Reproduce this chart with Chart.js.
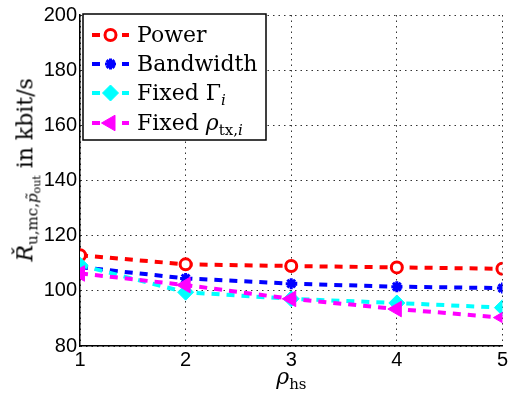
<!DOCTYPE html>
<html>
<head>
<meta charset="utf-8">
<script src="https://cdn.jsdelivr.net/npm/chart.js@4/dist/chart.umd.min.js"></script>
<style>
  html, body { margin: 0; padding: 0; background: #fff; }
  #wrap { width: 510px; height: 398px; position: relative; overflow: hidden; }
  .tx { position: absolute; left: 0; top: 0; white-space: nowrap; font-family: 'DejaVu Serif', serif;
        font-size: 22px; line-height: 22px; color: #000; transform-origin: 0 0; }
  .tx i { font-style: italic; }
  .sb { font-size: 15px; position: relative; top: 5px; }
  .ssb { font-size: 11px; position: relative; top: 2.5px; }
</style>
</head>
<body>
<div id="wrap">
  <canvas id="rateChart" width="510" height="398"></canvas>
  <div class="tx" id="lg0"></div>
  <div class="tx" id="lg1"></div>
  <div class="tx" id="lg2"></div>
  <div class="tx" id="lg3"></div>
  <div class="tx" id="xtitle"><i>&rho;</i><span class="sb">hs</span></div>
  <div class="tx" id="ytitle"><i>&#x0158;</i><span class="sb">u,mc,<i>p&#x0303;</i><span class="ssb">out</span></span> in kbit/s</div>
</div>
<script>
const rhoHs = [1, 2, 3, 4, 5];
const ratePower = [112.9, 109.6, 109.0, 108.5, 108.0];
const rateBandwidth = [108.6, 104.5, 102.6, 101.5, 101.0];
const rateFixedGamma = [109.3, 99.5, 97.1, 95.6, 93.9];
const rateFixedRho = [106.3, 102.1, 97.1, 93.4, 90.3];
const yTicks = [80, 100, 120, 140, 160, 180, 200];
const seriesNames = [
    'Power',
    'Bandwidth',
    'Fixed &Gamma;<span class="sb"><i>i</i></span>',
    'Fixed <i>&rho;</i><span class="sb">tx,<i>i</i></span>'
];

const SANS = '"Liberation Sans", Arial, sans-serif';
const ASC = 0.846 * 22;          // baseline offset inside a label box
const legendRows = [35, 64, 93, 123];

function pts(ys) {
    return rhoHs.map((x, i) => ({ x: x, y: ys[i] }));
}

// legend box, line samples and markers on the canvas; labels are html
const legendBox = {
    id: 'legendBox',
    afterDraw(chart) {
        const ctx = chart.ctx;
        ctx.save();
        ctx.fillStyle = '#fff';
        ctx.fillRect(83, 14, 183, 126);
        ctx.strokeStyle = '#000';
        ctx.lineWidth = 1.5;
        ctx.strokeRect(83, 14, 183, 126);
        chart.data.datasets.forEach((ds, i) => {
            const cy = legendRows[i];
            ctx.strokeStyle = ds.borderColor;
            ctx.lineWidth = ds.borderWidth;
            ctx.setLineDash([8, 7]);
            ctx.beginPath();
            ctx.moveTo(92, cy);
            ctx.lineTo(129, cy);
            ctx.stroke();
            ctx.setLineDash([]);
            ctx.fillStyle = ds.pointBackgroundColor;
            ctx.strokeStyle = ds.pointBorderColor;
            ctx.lineWidth = ds.pointBorderWidth;
            Chart.helpers.drawPoint(ctx, {
                pointStyle: ds.pointStyle,
                rotation: ds.pointRotation || 0,
                radius: ds.pointRadius,
                borderWidth: ds.pointBorderWidth
            }, 110.5, cy);
        });
        ctx.restore();
    }
};

const dash = [8, 7];

const chart = new Chart(document.getElementById('rateChart'), {
    type: 'line',
    data: {
        datasets: [
            {
                label: 'Power', data: pts(ratePower),
                borderColor: '#ff0000', borderWidth: 4, borderDash: dash,
                pointStyle: 'circle', pointRadius: 5.5, pointBorderWidth: 3,
                pointBorderColor: '#ff0000', pointBackgroundColor: '#ffffff', order: 3
            },
            {
                label: 'Bandwidth', data: pts(rateBandwidth),
                borderColor: '#0000ff', borderWidth: 4, borderDash: dash,
                pointStyle: 'star', pointRadius: 5.5, pointBorderWidth: 3,
                pointBorderColor: '#0000ff', pointBackgroundColor: '#0000ff', order: 2
            },
            {
                label: 'Fixed Gamma_i', data: pts(rateFixedGamma),
                borderColor: '#00ffff', borderWidth: 4, borderDash: dash,
                pointStyle: 'rectRot', pointRadius: 8, pointBorderWidth: 1,
                pointBorderColor: '#00ffff', pointBackgroundColor: '#00ffff', order: 1
            },
            {
                label: 'Fixed rho_tx,i', data: pts(rateFixedRho),
                borderColor: '#ff00ff', borderWidth: 4, borderDash: dash,
                pointStyle: 'triangle', pointRotation: -90, pointRadius: 9, pointBorderWidth: 1,
                pointBorderColor: '#ff00ff', pointBackgroundColor: '#ff00ff', order: 0
            }
        ]
    },
    options: {
        responsive: false,
        animation: false,
        layout: { autoPadding: false, padding: { top: 10, right: 3, left: 0, bottom: 0 } },
        plugins: { legend: { display: false }, tooltip: { enabled: false } },
        scales: {
            x: {
                type: 'linear', min: 1, max: 5,
                afterFit: (s) => { s.height = 52; },
                afterBuildTicks: (s) => { s.ticks = rhoHs.map(v => ({ value: v })); },
                ticks: { color: '#000', font: { family: SANS, size: 20 }, padding: 2, maxRotation: 0 },
                grid: { color: '#333', lineWidth: 1, drawTicks: false },
                border: { display: true, color: '#000', width: 1.5, dash: [1.5, 4] }
            },
            y: {
                min: 80, max: 200,
                afterFit: (s) => { s.width = 80; },
                afterBuildTicks: (s) => { s.ticks = yTicks.map(v => ({ value: v })); },
                ticks: { color: '#000', font: { family: SANS, size: 20 }, padding: 3 },
                grid: { color: '#333', lineWidth: 1, drawTicks: false },
                border: { display: true, color: '#000', width: 1.5, dash: [1.5, 4] }
            }
        }
    },
    plugins: [legendBox]
});

function place(el, x, y) {
    el.style.transform = 'translate(' + x + 'px, ' + y + 'px)';
}

seriesNames.forEach((name, i) => {
    const el = document.getElementById('lg' + i);
    el.innerHTML = name;
    place(el, 137, legendRows[i] + 8 - ASC);
});

const area = chart.chartArea;
const xt = document.getElementById('xtitle');
place(xt, (area.left + area.right) / 2 - xt.offsetWidth / 2, 385 - ASC);

// rotated y title, baseline at x = 33, centred on y = 170
const yt = document.getElementById('ytitle');
const w = yt.offsetWidth;
yt.style.transform = 'translate(' + (33 - ASC) + 'px, ' + (170 + w / 2) + 'px) rotate(-90deg)';
</script>
</body>
</html>
